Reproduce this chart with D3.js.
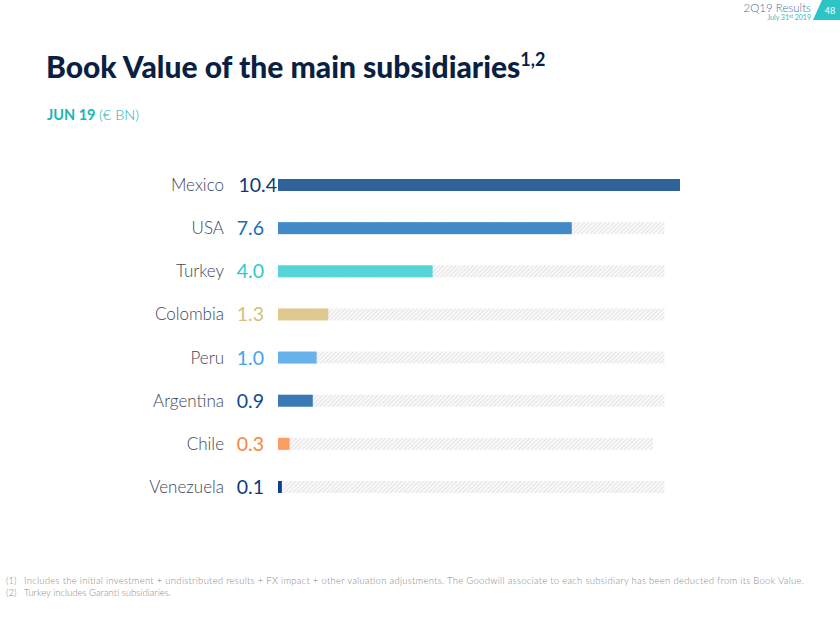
<!DOCTYPE html>
<html><head><meta charset="utf-8">
<script src="https://cdn.jsdelivr.net/npm/d3@7/dist/d3.min.js"></script>
<style>
html,body{margin:0;padding:0;background:#fff;}
svg{display:block;font-family:Lato,"Open Sans",sans-serif;}
</style></head>
<body>
<svg id="chart" width="840" height="625"></svg>
<script>
const categories = ["Mexico","USA","Turkey","Colombia","Peru","Argentina","Chile","Venezuela"];
const values = [10.4, 7.6, 4.0, 1.3, 1.0, 0.9, 0.3, 0.1];
const valueLabels = ["10.4","7.6","4.0","1.3","1.0","0.9","0.3","0.1"];
const backgroundMax = [10.0, 10.0, 10.0, 10.0, 10.0, 10.0, 9.7, 10.0];
const barColors = ["#2e6299","#4189c7","#56d4d8","#e0c98f","#67b2ea","#3979b6","#f7a061","#0c3f8d"];
const labelColors = ["#0d3a72","#1a6cb6","#2ccacd","#d8be7e","#44a3e9","#0d4a8f","#f5883a","#0b3a78"];
const footnotes = [
  ["(1)","Includes the initial investment + undistributed results  + FX impact  + other valuation adjustments. The Goodwill associate to each subsidiary has been deducted from its Book Value."],
  ["(2)","Turkey includes Garanti subsidiaries."]
];

const svg = d3.select("#chart");

// hatch pattern
const defs = svg.append("defs");
const pat = defs.append("pattern").attr("id","hatch").attr("patternUnits","userSpaceOnUse")
  .attr("width",3).attr("height",3).attr("patternTransform","rotate(45)");
pat.append("rect").attr("width",3).attr("height",3).attr("fill","#f9f9f9");
pat.append("line").attr("x1",0).attr("y1",0).attr("x2",0).attr("y2",3)
  .attr("stroke","#d6d6d6").attr("stroke-width",1.2);

// header
svg.append("text").attr("x",811).attr("y",12).attr("text-anchor","end")
  .attr("font-size",11.5).attr("fill","#4a6ea6").attr("font-weight",300).text("2Q19 Results");
const dt = svg.append("text").attr("x",811).attr("y",20).attr("text-anchor","end")
  .attr("font-size",7).attr("fill","#2cc0c4");
dt.append("tspan").text("July 31");
dt.append("tspan").attr("font-size",5).attr("dy",-2).text("st");
dt.append("tspan").attr("dy",2).text(" 2019");
svg.append("path").attr("d","M822,0 L840,0 L840,20 L813,20 Z").attr("fill","#2dc4c6");
svg.append("text").attr("x",830).attr("y",14).attr("text-anchor","middle")
  .attr("font-size",9).attr("fill","#fff").text("48");

// title
const title = svg.append("text").attr("x",46).attr("y",78).attr("font-size",30)
  .attr("font-weight",900).attr("fill","#0a1f44");
title.append("tspan").text("Book Value of the main subsidiaries");
title.append("tspan").attr("font-size",18).attr("font-weight",700).attr("dy",-12).text("1,2");

const sub = svg.append("text").attr("x",47).attr("y",120).attr("font-size",14.5).attr("fill","#1bb5b6");
sub.append("tspan").attr("font-weight",700).text("JUN 19 ");
sub.append("tspan").attr("font-weight",300).text("(€ BN)");

// scales
const x = d3.scaleLinear().domain([0,10.4]).range([278,680]);
const y = d3.scalePoint().domain(categories).range([185,487]);
const bh = 12;

const rows = svg.append("g").selectAll("g").data(categories).join("g");

rows.append("rect")
  .attr("x",x(0)).attr("y",d=>y(d)-bh/2)
  .attr("width",(d,i)=>x(backgroundMax[i])-x(0)).attr("height",bh)
  .attr("fill","url(#hatch)");

rows.append("rect")
  .attr("x",x(0)).attr("y",d=>y(d)-bh/2)
  .attr("width",(d,i)=>x(values[i])-x(0)).attr("height",bh)
  .attr("fill",(d,i)=>barColors[i]);

rows.append("text")
  .attr("x",224).attr("y",d=>y(d)+6)
  .attr("text-anchor","end").attr("font-size",17).attr("font-weight",300)
  .attr("fill","#3a475a").text(d=>d);

rows.append("text")
  .attr("x",(d,i)=> i===0 ? 277 : 264).attr("y",d=>y(d)+7)
  .attr("text-anchor","end").attr("font-size",19.5).attr("font-weight",400)
  .attr("fill",(d,i)=>labelColors[i]).text((d,i)=>valueLabels[i]);

// footnotes
const fn = svg.append("g").selectAll("g").data(footnotes).join("g");
fn.append("text").attr("x",6).attr("y",(d,i)=>584+i*12).attr("font-size",9.5)
  .attr("fill","#8a8a8a").attr("font-weight",300).text(d=>d[0]);
fn.append("text").attr("x",24).attr("y",(d,i)=>584+i*12).attr("font-size",9.5)
  .attr("fill","#8a8a8a").attr("font-weight",300).attr("textLength",(d,i)=> i===0 ? 780 : null)
  .text(d=>d[1]);
</script>
</body></html>
